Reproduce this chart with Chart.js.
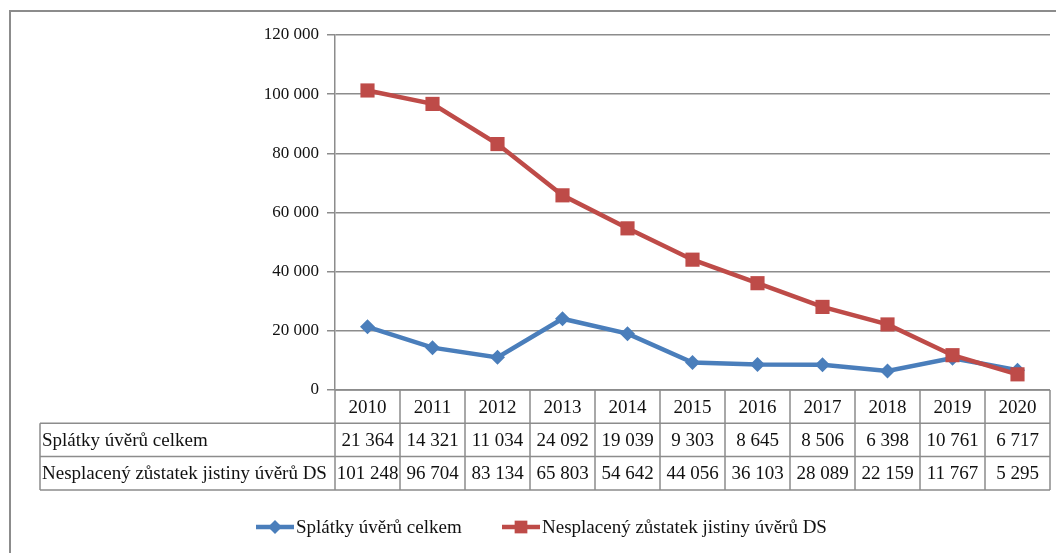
<!DOCTYPE html>
<html lang="cs">
<head>
    <meta charset="UTF-8">
    <title>Splátky úvěrů</title>
    <script src="https://cdn.jsdelivr.net/npm/chart.js"></script>
    <style>
        html, body { margin: 0; padding: 0; background: #fff; }
        #wrap { width: 1056px; height: 553px; }
    </style>
</head>
<body>
    <div id="wrap"><canvas id="uveryChart" width="1056" height="553"></canvas></div>

    <script>
        const years = ['2010', '2011', '2012', '2013', '2014', '2015', '2016', '2017', '2018', '2019', '2020'];
        const splatky = [21364, 14321, 11034, 24092, 19039, 9303, 8645, 8506, 6398, 10761, 6717];
        const zustatek = [101248, 96704, 83134, 65803, 54642, 44056, 36103, 28089, 22159, 11767, 5295];
        const seriesNames = ['Splátky úvěrů celkem', 'Nesplacený zůstatek jistiny úvěrů DS'];
        const yTicks = [0, 20000, 40000, 60000, 80000, 100000, 120000];

        const blue = '#4a7ebb';
        const red = '#be4b48';
        const gridColor = '#8c8c8c';
        const fontFamily = '"Liberation Serif", "DejaVu Serif", serif';

        // 101248 -> "101 248"
        function fmt(v) {
            return String(v).replace(/\B(?=(\d{3})+(?!\d))/g, ' ');
        }

        // tabulka pod grafem + legenda + ramecek
        const tablePlugin = {
            id: 'tablePlugin',
            afterDraw(chart) {
                const ctx = chart.ctx;
                const x = chart.scales.x;
                const area = chart.chartArea;
                const rowH = 33.3;
                const labelLeft = 40;
                const colW = (area.right - area.left) / years.length;
                const top = area.bottom;

                ctx.save();
                ctx.strokeStyle = gridColor;
                ctx.lineWidth = 2;
                ctx.strokeRect(10, 11, 1200, 700);

                ctx.lineWidth = 1.5;
                ctx.beginPath();
                // horizontalni cary
                ctx.moveTo(area.left, top);
                ctx.lineTo(area.right, top);
                for (let r = 1; r <= 3; r++) {
                    ctx.moveTo(labelLeft, top + rowH * r);
                    ctx.lineTo(area.right, top + rowH * r);
                }
                // svisle cary
                ctx.moveTo(labelLeft, top + rowH);
                ctx.lineTo(labelLeft, top + rowH * 3);
                for (let i = 0; i <= years.length; i++) {
                    const cx = area.left + colW * i;
                    ctx.moveTo(cx, top);
                    ctx.lineTo(cx, top + rowH * 3);
                }
                ctx.stroke();

                ctx.fillStyle = '#111';
                ctx.font = '19px ' + fontFamily;
                ctx.textBaseline = 'middle';
                ctx.textAlign = 'center';
                years.forEach((y, i) => {
                    const cx = x.getPixelForValue(i);
                    ctx.fillText(y, cx, top + rowH * 0.5 + 1);
                    ctx.fillText(fmt(splatky[i]), cx, top + rowH * 1.5 + 1);
                    ctx.fillText(fmt(zustatek[i]), cx, top + rowH * 2.5 + 1);
                });
                ctx.textAlign = 'left';
                ctx.fillText(seriesNames[0], labelLeft + 2, top + rowH * 1.5 + 1);
                ctx.fillText(seriesNames[1], labelLeft + 2, top + rowH * 2.5 + 1);

                // legenda
                const ly = 527;
                const items = [
                    { x: 256, color: blue, style: 'rectRot', r: 7, text: seriesNames[0] },
                    { x: 502, color: red, style: 'rect', r: 9, text: seriesNames[1] }
                ];
                items.forEach(it => {
                    ctx.strokeStyle = it.color;
                    ctx.lineWidth = 4.5;
                    ctx.beginPath();
                    ctx.moveTo(it.x, ly);
                    ctx.lineTo(it.x + 38, ly);
                    ctx.stroke();
                    ctx.fillStyle = it.color;
                    Chart.helpers.drawPoint(ctx, { pointStyle: it.style, radius: it.r, rotation: 0, borderWidth: 0 }, it.x + 19, ly);
                    ctx.fillStyle = '#111';
                    ctx.fillText(it.text, it.x + 40, ly + 1);
                });
                ctx.restore();
            }
        };

        const ctx = document.getElementById('uveryChart').getContext('2d');
        new Chart(ctx, {
            type: 'line',
            data: {
                labels: years,
                datasets: [{
                    label: seriesNames[0],
                    data: splatky,
                    borderColor: blue,
                    backgroundColor: blue,
                    borderWidth: 4.5,
                    pointStyle: 'rectRot',
                    pointRadius: 7.5,
                    pointBorderWidth: 0,
                    order: 1
                }, {
                    label: seriesNames[1],
                    data: zustatek,
                    borderColor: red,
                    backgroundColor: red,
                    borderWidth: 4.5,
                    pointStyle: 'rect',
                    pointRadius: 10,
                    pointBorderWidth: 0,
                    order: 0
                }]
            },
            options: {
                responsive: false,
                animation: false,
                layout: { autoPadding: false, padding: { left: 0, right: 6, top: 35, bottom: 163 } },
                plugins: {
                    legend: { display: false },
                    tooltip: { enabled: false }
                },
                elements: { line: { tension: 0 } },
                scales: {
                    x: {
                        display: false,
                        offset: true
                    },
                    y: {
                        min: 0,
                        max: 120000,
                        afterFit(scale) { scale.width = 335; },
                        afterBuildTicks(scale) { scale.ticks = yTicks.map(v => ({ value: v })); },
                        border: { color: gridColor, width: 1.5 },
                        grid: { color: gridColor, lineWidth: 1.5, tickLength: 8 },
                        ticks: {
                            color: '#111',
                            padding: 8,
                            font: { family: fontFamily, size: 17 },
                            callback: v => fmt(v)
                        }
                    }
                }
            },
            plugins: [tablePlugin]
        });
    </script>
</body>
</html>
